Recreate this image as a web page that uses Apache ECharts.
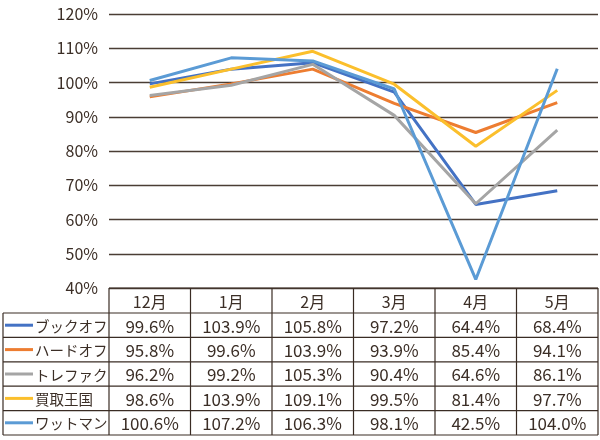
<!DOCTYPE html>
<html><head><meta charset="utf-8">
<script src="https://cdn.jsdelivr.net/npm/echarts@6/dist/echarts.min.js"></script>
<style>html,body{margin:0;padding:0;background:#fff}#c{width:600px;height:440px}</style>
</head><body><div id="c"></div>
<script>
// ---- data ----
const categories = ['12月', '1月', '2月', '3月', '4月', '5月'];
const seriesNames = ['ブックオフ', 'ハードオフ', 'トレファク', '買取王国', 'ワットマン'];
const bookoff  = [99.6, 103.9, 105.8, 97.2, 64.4, 68.4];
const hardoff  = [95.8, 99.6, 103.9, 93.9, 85.4, 94.1];
const torefaku = [96.2, 99.2, 105.3, 90.4, 64.6, 86.1];
const kaitori  = [98.6, 103.9, 109.1, 99.5, 81.4, 97.7];
const wattoman = [100.6, 107.2, 106.3, 98.1, 42.5, 104.0];
const yMin = 40, yMax = 120, yStep = 10;

// ---- styles / layout ----
const allData = [bookoff, hardoff, torefaku, kaitori, wattoman];
const colors = ['#4472C4', '#ED7D31', '#A5A5A5', '#FBBF2C', '#5B9BD5'];
const textColor = '#3b2e26';
const lineColor = '#3a2c24';
const FONT = '"Noto Sans CJK JP", "Noto Sans", sans-serif';
const GL = 109, GR = 598, GT = 14, GB = 288;
const TABLE_LEFT = 3;
const headerBottom = 313;
const tableBottom = 435;
const rowH = (tableBottom - headerBottom) / seriesNames.length;
const colW = (GR - GL) / categories.length;

const chart = echarts.init(document.getElementById('c'), null, {renderer: 'canvas'});

const graphic = [];
function hline(x1, x2, y) {
  graphic.push({type: 'line', silent: true, z: 10,
    shape: {x1: x1, y1: y, x2: x2, y2: y}, style: {stroke: lineColor, lineWidth: 1.2}});
}
function vline(x, y1, y2) {
  graphic.push({type: 'line', silent: true, z: 10,
    shape: {x1: x, y1: y1, x2: x, y2: y2}, style: {stroke: lineColor, lineWidth: 1.2}});
}
function txt(s, x, y, align, size) {
  graphic.push({type: 'text', silent: true, z: 11,
    style: {text: s, x: x, y: y, align: align, verticalAlign: 'middle',
      fill: textColor, font: size + 'px ' + FONT}});
}
// header
hline(GL, GR, GB);
for (let i = 0; i <= categories.length; i++) vline(GL + i * colW, GB, tableBottom);
vline(TABLE_LEFT, headerBottom, tableBottom);
hline(TABLE_LEFT, GR, headerBottom);
categories.forEach((c, i) => txt(c, GL + (i + 0.5) * colW, (GB + headerBottom) / 2 + 1, 'center', 16));
seriesNames.forEach((name, r) => {
  const y0 = headerBottom + r * rowH, yc = y0 + rowH / 2;
  hline(TABLE_LEFT, GR, y0 + rowH);
  graphic.push({type: 'line', silent: true, z: 11,
    shape: {x1: 5, y1: yc, x2: 33, y2: yc}, style: {stroke: colors[r], lineWidth: 3}});
  txt(name, 35, yc + 1, 'left', 14.5);
  allData[r].forEach((v, i) => txt(v.toFixed(1) + '%', GL + (i + 0.5) * colW, yc + 1, 'center', 17));
});

chart.setOption({
  animation: false,
  backgroundColor: '#fff',
  grid: {left: GL, right: 600 - GR, top: GT, bottom: 440 - GB, containLabel: false},
  xAxis: {type: 'category', data: categories, boundaryGap: true,
    axisLine: {show: false}, axisTick: {show: false}, axisLabel: {show: false}},
  yAxis: {type: 'value', min: yMin, max: yMax, interval: yStep,
    axisLine: {show: false}, axisTick: {show: false},
    axisLabel: {formatter: '{value}%', color: textColor, fontSize: 16, fontFamily: FONT, margin: 11},
    splitLine: {lineStyle: {color: '#4a3d34', width: 1.3}}},
  series: seriesNames.map((n, i) => ({
    name: n, type: 'line', data: allData[i], symbol: 'none',
    lineStyle: {color: colors[i], width: 3}, itemStyle: {color: colors[i]}, z: 2 + i
  })),
  graphic: graphic
});
</script></body></html>
